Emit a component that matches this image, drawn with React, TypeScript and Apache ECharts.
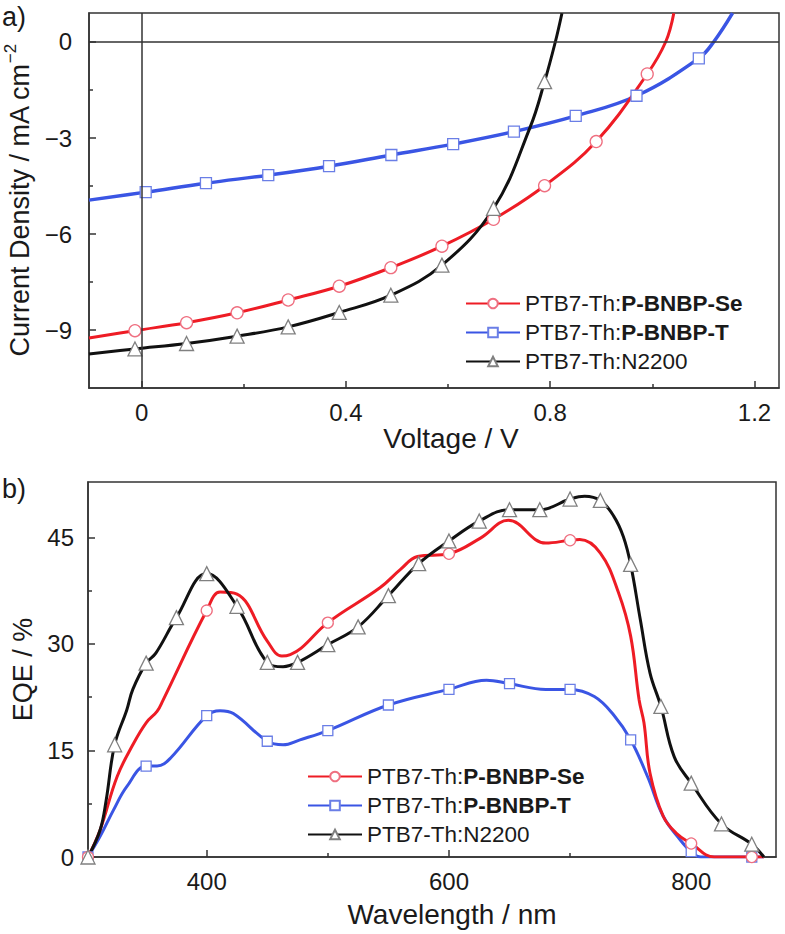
import React, { useEffect, useRef } from "react";
import * as echarts from "echarts";

// ---------- Panel a) J–V curves: [voltage (V), current density (mA cm^-2)] ----------
const jvSe: [number, number][] = [
  [-0.103, -9.25], [-0.013, -9.02], [0.088, -8.77], [0.187, -8.46], [0.287, -8.06],
  [0.387, -7.63], [0.488, -7.05], [0.588, -6.38], [0.689, -5.54], [0.789, -4.49],
  [0.89, -3.11], [0.99, -1.0], [1.026, 0], [1.042, 0.9],
];
const jvSeMarkers = [-0.013, 0.088, 0.187, 0.287, 0.387, 0.488, 0.588, 0.689, 0.789, 0.89, 0.99];

const jvT: [number, number][] = [
  [-0.103, -4.94], [0.008, -4.69], [0.126, -4.41], [0.248, -4.16], [0.367, -3.88],
  [0.489, -3.53], [0.61, -3.19], [0.729, -2.8], [0.85, -2.31], [0.969, -1.68],
  [1.091, -0.51], [1.12, 0], [1.157, 0.9],
];
const jvTMarkers = [0.008, 0.126, 0.248, 0.367, 0.489, 0.61, 0.729, 0.85, 0.969, 1.091];

const jvN: [number, number][] = [
  [-0.103, -9.75], [-0.013, -9.59], [0.088, -9.42], [0.187, -9.19], [0.287, -8.9],
  [0.387, -8.45], [0.488, -7.91], [0.588, -6.97], [0.689, -5.2],
  [0.761, -2.65], [0.789, -1.24], [0.81, 0], [0.823, 0.9],
];
const jvNMarkers = [-0.013, 0.088, 0.187, 0.287, 0.387, 0.488, 0.588, 0.689, 0.789];

// ---------- Panel b) EQE spectra: [wavelength (nm), EQE (%)] ----------
const eqeSe: [number, number][] = [
  [302, 0], [312, 3.8], [326, 11.3], [339, 15.8], [350, 18.9], [359, 20.5], [364, 22.1],
  [400, 34.7], [411, 37.3], [425, 37.0], [450, 30.4], [462, 28.3], [469, 28.5], [478, 29.4],
  [500, 33.0], [543, 37.9], [560, 40.5], [574, 42.3], [600, 42.7], [626, 44.9], [649, 47.4],
  [680, 44.2], [700, 44.6], [708, 44.7], [725, 42.8], [740, 37.2], [750, 31.1], [757, 22.1],
  [761, 18.9], [766, 11.8], [777, 5.7], [788, 3.3], [800, 1.9], [819, 0], [850, 0], [860, 0],
];
const eqeSeMarkers = [302, 400, 500, 600, 700, 800, 850];

const eqeT: [number, number][] = [
  [302, 0], [312, 2.9], [323, 6.6], [334, 9.9], [350, 12.8], [359, 12.8], [370, 13.9],
  [400, 19.9], [411, 20.6], [422, 20.2], [450, 16.3], [463, 15.8], [477, 16.5], [500, 17.8],
  [550, 21.4], [600, 23.6], [631, 24.9], [650, 24.4], [680, 23.6], [700, 23.6], [720, 22.6],
  [736, 20.0], [750, 16.5], [764, 11.3], [777, 5.7], [791, 2.4], [800, 0.75], [808, 0],
  [850, 0], [860, 0],
];
const eqeTMarkers = [302, 350, 400, 450, 500, 550, 600, 650, 700, 750, 800, 850];

const eqeN: [number, number][] = [
  [302, 0], [312, 3.8], [317, 8.0], [324, 15.8], [334, 20.7], [339, 23.6], [350, 27.3],
  [358, 28.7], [375, 33.7], [400, 39.9], [425, 35.3], [450, 27.4], [463, 26.8], [475, 27.4],
  [500, 29.9], [525, 32.4], [550, 36.8], [575, 41.3], [600, 44.5], [625, 47.3], [650, 48.9],
  [675, 48.9], [700, 50.4], [712, 50.8], [725, 50.2], [736, 48.0], [744, 45.1], [750, 41.2],
  [758, 33.4], [766, 25.9], [775, 21.2], [786, 14.1], [800, 10.4], [825, 4.65], [850, 1.8],
  [860, 0],
];
const eqeNMarkers = [302, 324, 350, 375, 400, 425, 450, 475, 500, 525, 550, 575, 600, 625,
  650, 675, 700, 725, 750, 775, 800, 825, 850];

// ---------- Labels ----------
const seriesNames = ["PTB7-Th:P-BNBP-Se", "PTB7-Th:P-BNBP-T", "PTB7-Th:N2200"];
const jvXTicks = [0, 0.4, 0.8, 1.2];
const jvXMinor = [0.2, 0.6, 1.0];
const jvYTicks = [-9, -6, -3, 0];
const jvYMinor = [-7.5, -4.5, -1.5];
const eqeXTicks = [400, 600, 800];
const eqeXMinor = [500, 700];
const eqeYTicks = [0, 15, 30, 45];
const eqeYMinor = [7.5, 22.5, 37.5];

const FONT = "'Liberation Sans', Arial, Helvetica, sans-serif";
const TXT = "#1a1a1a";
const AX = "#333333";
const RED = "#ee1c25";
const BLUE = "#3a55e4";
const BLACK = "#111111";

function buildData(pts: [number, number][], markers: number[]) {
  return pts.map(([x, y]) => {
    const item: any = { value: [x, y] };
    if (!markers.includes(x)) item.symbol = "none";
    return item;
  });
}

function lineSeries(
  name: string, idx: number, pts: [number, number][], markers: number[],
  color: string, border: string, symbol: string, size: number, width: number
) {
  return {
    type: "line", name, xAxisIndex: idx * 2, yAxisIndex: idx * 2,
    data: buildData(pts, markers),
    smooth: 0.4,
    symbol, symbolSize: size, showAllSymbol: true,
    lineStyle: { color, width },
    itemStyle: { color: "#ffffff", borderColor: border, borderWidth: 1.3 },
    emphasis: { disabled: true },
    z: 3,
  };
}

function mainAxis(grid: number, min: number, max: number, ticks: number[], margin: number, extra: any) {
  return {
    type: "value", gridIndex: grid, min, max,
    axisLine: { show: true, onZero: false, lineStyle: { color: AX, width: 1.5 } },
    axisTick: { show: true, inside: true, length: 7, customValues: ticks, lineStyle: { color: AX, width: 1.5 } },
    axisLabel: {
      show: true, customValues: ticks, margin, fontSize: 24, color: TXT, fontFamily: FONT,
      formatter: (v: number) => String(v).replace("-", "\u2212"),
    },
    splitLine: { show: false },
    ...extra,
  };
}

function minorAxis(grid: number, min: number, max: number, ticks: number[], position: string) {
  return {
    type: "value", gridIndex: grid, min, max, position,
    axisLine: { show: false, onZero: false },
    axisTick: { show: true, inside: true, length: 4, customValues: ticks, lineStyle: { color: AX, width: 1.5 } },
    axisLabel: { show: false },
    splitLine: { show: false },
  };
}

const legendFormatter = (name: string) => {
  const i = name.indexOf(":");
  const head = name.slice(0, i + 1);
  const tail = name.slice(i + 1);
  if (tail === "N2200") return name;
  return head + "{b|" + tail + "}";
};

export default function App() {
  const ref = useRef<HTMLDivElement>(null);
  useEffect(() => {
    if (!ref.current) return;
    const chart = echarts.init(ref.current, undefined, { renderer: "svg" });
    const jvXMin = -0.103, jvXMax = 1.248, jvYMin = -10.81, jvYMax = 0.906;
    const eqXMin = 302, eqXMax = 870, eqYMin = 0, eqYMax = 52.8;
    const legendCommon = {
      orient: "vertical", itemWidth: 54, itemHeight: 12, itemGap: 6,
      data: seriesNames, selectedMode: false,
      formatter: legendFormatter,
      textStyle: {
        fontSize: 22.5, color: TXT, fontFamily: FONT, lineHeight: 22,
        rich: { b: { fontSize: 22.5, fontWeight: "bold", color: TXT, fontFamily: FONT, lineHeight: 22 } },
      },
    };
    chart.setOption({
      animation: false,
      backgroundColor: "#ffffff",
      grid: [
        { left: 89, top: 13, width: 690, height: 375, show: true, borderColor: AX, borderWidth: 1.5, backgroundColor: "transparent", outerBoundsMode: "none", containLabel: false },
        { left: 88, top: 482, width: 688, height: 375, show: true, borderColor: AX, borderWidth: 1.5, backgroundColor: "transparent", outerBoundsMode: "none", containLabel: false },
      ],
      xAxis: [
        mainAxis(0, jvXMin, jvXMax, jvXTicks, 12, {
          position: "bottom", name: "Voltage / V", nameLocation: "middle", nameGap: 36,
          nameTextStyle: { fontSize: 28, color: TXT, fontFamily: FONT, padding: [0, 0, 0, 34] },
        }),
        minorAxis(0, jvXMin, jvXMax, jvXMinor, "bottom"),
        mainAxis(1, eqXMin, eqXMax, eqeXTicks, 12, {
          position: "bottom", name: "Wavelength / nm", nameLocation: "middle", nameGap: 43,
          nameTextStyle: { fontSize: 28, color: TXT, fontFamily: FONT, padding: [0, 0, 0, 40] },
        }),
        minorAxis(1, eqXMin, eqXMax, eqeXMinor, "bottom"),
      ],
      yAxis: [
        mainAxis(0, jvYMin, jvYMax, jvYTicks, 17, {
          position: "left", name: "{a|Current Density / mA cm}{s|\u22122}", nameLocation: "middle",
          nameRotate: 90, nameGap: 54,
          nameTextStyle: {
            color: TXT, fontFamily: FONT,
            rich: {
              a: { fontSize: 27, color: TXT, fontFamily: FONT, lineHeight: 32, verticalAlign: "bottom" },
              s: { fontSize: 17, color: TXT, fontFamily: FONT, lineHeight: 32, verticalAlign: "top", padding: [0, 0, 12, 0] },
            },
          },
        }),
        minorAxis(0, jvYMin, jvYMax, jvYMinor, "left"),
        mainAxis(1, eqYMin, eqYMax, eqeYTicks, 14, {
          position: "left", name: "EQE / %", nameLocation: "middle", nameRotate: 90, nameGap: 52,
          nameTextStyle: { fontSize: 27, color: TXT, fontFamily: FONT },
        }),
        minorAxis(1, eqYMin, eqYMax, eqeYMinor, "left"),
      ],
      legend: [
        { ...legendCommon, left: 460, top: 287 },
        { ...legendCommon, left: 302, top: 760 },
      ],
      graphic: [
        { type: "text", left: 2, top: 3, style: { text: "a)", fontSize: 27, fill: TXT, fontFamily: FONT } },
        { type: "text", left: 2, top: 475, style: { text: "b)", fontSize: 27, fill: TXT, fontFamily: FONT } },
      ],
      series: [
        {
          type: "line", xAxisIndex: 0, yAxisIndex: 0, data: [], silent: true, z: 1,
          markLine: {
            silent: true, symbol: ["none", "none"], label: { show: false },
            lineStyle: { color: AX, width: 1.5, type: "solid" },
            emphasis: { disabled: true },
            data: [{ xAxis: 0 }, { yAxis: 0 }],
          },
        },
        lineSeries(seriesNames[1], 0, jvT, jvTMarkers, BLUE, "#6a7ee6", "rect", 11, 3.5),
        lineSeries(seriesNames[0], 0, jvSe, jvSeMarkers, RED, "#ef6f80", "circle", 12, 3),
        lineSeries(seriesNames[2], 0, jvN, jvNMarkers, BLACK, "#808080", "triangle", 14, 3),
        lineSeries(seriesNames[1], 1, eqeT, eqeTMarkers, BLUE, "#6a7ee6", "rect", 10, 3),
        lineSeries(seriesNames[0], 1, eqeSe, eqeSeMarkers, RED, "#ef6f80", "circle", 11, 3),
        lineSeries(seriesNames[2], 1, eqeN, eqeNMarkers, BLACK, "#808080", "triangle", 14, 3),
      ],
    });
    return () => chart.dispose();
  }, []);
  return (
    <div
      ref={ref}
      style={{ position: "absolute", left: 0, top: 0, width: 785, height: 934, background: "#fff" }}
    />
  );
}
